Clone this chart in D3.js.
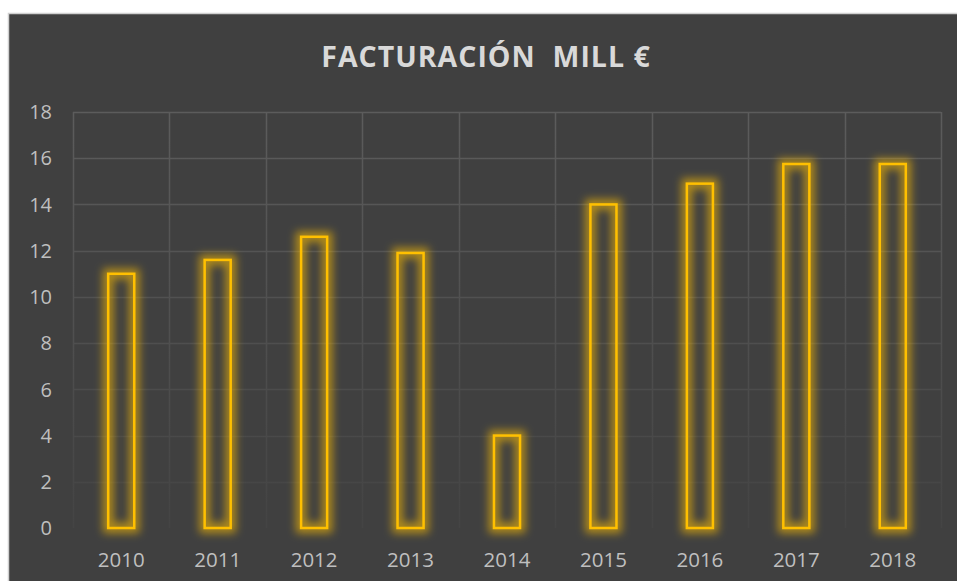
<!DOCTYPE html>
<html>
<head>
<meta charset="utf-8">
<script src="https://cdn.jsdelivr.net/npm/d3@7"></script>
<style>
  body { margin: 0; background: #fff; }
  svg { display: block; }
</style>
</head>
<body>
<svg id="chart" width="957" height="581"></svg>
<script>
(function() {
	"use strict";

	// data
	var years = ["2010", "2011", "2012", "2013", "2014", "2015", "2016", "2017", "2018"];
	var revenue = [11.0, 11.6, 12.6, 11.9, 4.0, 14.0, 14.9, 15.75, 15.75];
	var yTicks = [0, 2, 4, 6, 8, 10, 12, 14, 16, 18];
	var title = "FACTURACIÓN  MILL €";

	var width = 957, height = 581,
		plot = { left: 73, right: 941, top: 112, bottom: 528 },
		font = "'Open Sans', sans-serif";

	var svg = d3.select("#chart");
	var defs = svg.append("defs");

	// gridlines fade out toward the bottom
	var grad = defs.append("linearGradient")
		.attr("id", "gridFade")
		.attr("gradientUnits", "userSpaceOnUse")
		.attr("x1", 0).attr("y1", plot.top)
		.attr("x2", 0).attr("y2", plot.bottom);
	grad.append("stop").attr("offset", 0).attr("stop-color", "#5c5c5c");
	grad.append("stop").attr("offset", 1).attr("stop-color", "#444444");

	// yellow glow round the bar outlines
	var glow = defs.append("filter")
		.attr("id", "glow")
		.attr("x", "-80%").attr("y", "-20%")
		.attr("width", "260%").attr("height", "140%");
	glow.append("feMorphology")
		.attr("in", "SourceGraphic")
		.attr("operator", "dilate")
		.attr("radius", 3.5)
		.attr("result", "fat");
	glow.append("feGaussianBlur")
		.attr("in", "fat")
		.attr("stdDeviation", 4)
		.attr("result", "blur");
	glow.append("feComponentTransfer")
		.attr("in", "blur")
		.attr("result", "soft")
		.append("feFuncA").attr("type", "linear").attr("slope", 0.6);
	var merge = glow.append("feMerge");
	merge.append("feMergeNode").attr("in", "soft");
	merge.append("feMergeNode").attr("in", "SourceGraphic");

	// background panel with light border
	svg.append("rect")
		.attr("x", 8.5).attr("y", 13.5)
		.attr("width", width).attr("height", height)
		.attr("fill", "#404040")
		.attr("stroke", "#d0d0d0")
		.attr("stroke-width", 1.5);

	var x = d3.scaleBand()
		.domain(years)
		.range([plot.left, plot.right])
		.paddingInner(0.73)
		.paddingOuter(0.365);

	var y = d3.scaleLinear()
		.domain([0, 18])
		.range([plot.bottom, plot.top]);

	var step = (plot.right - plot.left) / years.length;

	// horizontal gridlines
	svg.append("g").selectAll("line")
		.data(yTicks.filter(function(d) { return d > 0; }))
		.enter().append("line")
			.attr("x1", plot.left).attr("x2", plot.right)
			.attr("y1", function(d) { return Math.round(y(d)) + 0.5; })
			.attr("y2", function(d) { return Math.round(y(d)) + 0.5 + 0.01; })
			.attr("stroke", "url(#gridFade)")
			.attr("stroke-width", 1.5);

	// vertical gridlines at category boundaries
	svg.append("g").selectAll("line")
		.data(d3.range(years.length + 1))
		.enter().append("line")
			.attr("x1", function(i) { return Math.round(plot.left + i * step) + 0.5; })
			.attr("x2", function(i) { return Math.round(plot.left + i * step) + 0.51; })
			.attr("y1", plot.top).attr("y2", plot.bottom)
			.attr("stroke", "url(#gridFade)")
			.attr("stroke-width", 1.5);

	// bars: hollow outline with glow
	svg.append("g").selectAll("rect")
		.data(revenue)
		.enter().append("rect")
			.attr("x", function(d, i) { return x(years[i]); })
			.attr("y", function(d) { return y(d); })
			.attr("width", x.bandwidth())
			.attr("height", function(d) { return y(0) - y(d); })
			.attr("fill", "none")
			.attr("stroke", "#ffc000")
			.attr("stroke-width", 2.5)
			.attr("filter", "url(#glow)");

	// y axis labels
	svg.append("g").selectAll("text")
		.data(yTicks)
		.enter().append("text")
			.attr("x", 52)
			.attr("y", function(d) { return y(d); })
			.attr("dy", "0.36em")
			.attr("text-anchor", "end")
			.attr("fill", "#bfbfbf")
			.style("font-family", font)
			.style("font-size", "20px")
			.text(function(d) { return d; });

	// x axis labels
	svg.append("g").selectAll("text")
		.data(years)
		.enter().append("text")
			.attr("x", function(d) { return x(d) + x.bandwidth() / 2; })
			.attr("y", 559.5)
			.attr("dy", "0.36em")
			.attr("text-anchor", "middle")
			.attr("fill", "#bfbfbf")
			.style("font-family", font)
			.style("font-size", "20.5px")
			.text(function(d) { return d; });

	// title
	svg.append("text")
		.attr("x", 486)
		.attr("y", 67)
		.attr("text-anchor", "middle")
		.attr("fill", "#d9d9d9")
		.style("font-family", font)
		.style("font-weight", "bold")
		.style("font-size", "28.5px")
		.style("letter-spacing", "1px")
		.style("white-space", "pre")
		.text(title);
})();
</script>
</body>
</html>
